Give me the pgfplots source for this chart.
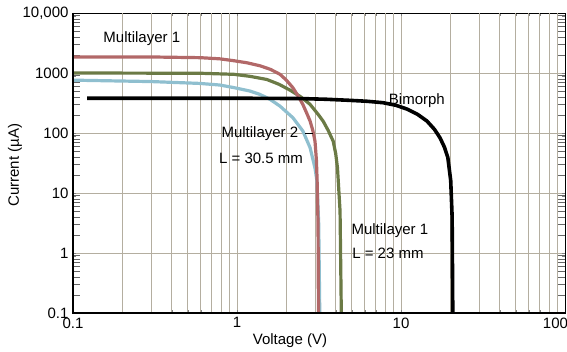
\documentclass[border=0pt]{standalone}
\usepackage{fontspec}
\setmainfont{Liberation Sans}
\usepackage{pgfplots}
\pgfplotsset{compat=1.18}
\definecolor{cred}{RGB}{178,104,104}
\definecolor{cgreen}{RGB}{107,122,69}
\definecolor{cblue}{RGB}{143,191,207}
\definecolor{cgrid}{RGB}{180,174,160}
\begin{document}
\begin{tikzpicture}
\path[use as bounding box] (-73pt,-38pt) rectangle (494pt,313pt);
\begin{axis}[
  at={(0,0)}, anchor=south west,
  scale only axis, width=492pt, height=300pt,
  xmode=log, ymode=log,
  xmin=0.1, xmax=100, ymin=0.1, ymax=10000,
  font=\fontsize{15}{17}\selectfont,
  /pgf/number format/assume math mode=true,
  xtick={0.1,1,10,100}, xticklabels={0.1,1,10,{\makebox[0pt][r]{100\hspace{-3pt}}}},
  ytick={0.1,1,10,100,1000,10000}, yticklabels={0.1,1,10,100,1000,{10,000}},
  minor xtick={}, minor ytick={},
  extra x ticks={0.2,0.3,0.4,0.5,0.6,0.7,0.8,0.9,2,3,4,5,6,7,8,9,20,30,40,50,60,70,80,90},
  extra x tick labels={},
  extra x tick style={xmajorgrids=true, major tick length=0pt},
  extra y ticks={0.2,0.3,0.4,0.5,0.6,0.7,0.8,0.9,2,3,4,5,6,7,8,9,20,30,40,50,60,70,80,90,200,300,400,500,600,700,800,900,2000,3000,4000,5000,6000,7000,8000,9000},
  extra y tick labels={},
  extra y tick style={ymajorgrids=false, major tick length=7pt, major tick style={black!60, line width=0.6pt}},
  xmajorgrids, ymajorgrids,
  major grid style={cgrid, line width=0.75pt},
  major tick length=0pt,
  tick align=inside,
  axis line style={black, line width=0.9pt},
  xticklabel style={yshift=-1pt},
  yticklabel style={xshift=-1pt},
  xlabel={Voltage (V)}, ylabel={Current (µA)},
  xlabel style={at={(axis description cs:0.441,-0.093)}, anchor=center},
  ylabel style={at={(axis description cs:-0.118,0.493)}, anchor=center},
  clip=true,
]
\addplot[cblue, line width=3.2pt] coordinates {
 (0.1,760)(0.3,720)(0.595,670)(0.787,630)(0.96,570)(1.2,500)(1.38,440)(1.6,360)(1.83,280)(2.19,180)(2.52,108)(2.79,57)(2.99,26)(3.07,16)(3.15,3)(3.2,0.08)};
\addplot[cgreen, line width=3.2pt] coordinates {
 (0.1,1000)(0.6,990)(0.96,950)(1.2,880)(1.52,780)(1.8,650)(2.1,520)(2.45,400)(2.79,300)(3.1,210)(3.35,158)(3.6,110)(3.86,73)(4.0,45)(4.1,26)(4.25,5)(4.33,0.08)};
\addplot[cred, line width=3.2pt] coordinates {
 (0.1,1850)(0.3,1850)(0.6,1800)(0.79,1720)(0.96,1600)(1.15,1480)(1.38,1320)(1.6,1150)(1.83,950)(2.0,760)(2.19,570)(2.35,420)(2.52,300)(2.65,220)(2.79,158)(2.9,110)(2.99,73)(3.05,35)(3.08,16)(3.12,3)(3.14,0.08)};
\addplot[black, line width=3.6pt] coordinates {
 (0.122,380)(1,380)(2.44,375)(3.5,365)(4.89,350)(6.2,338)(7.77,320)(9.3,290)(10.9,250)(12.6,205)(14.4,158)(16,115)(17.3,83)(18.4,58)(19.3,39)(20.1,16)(20.5,4)(20.7,0.08)};
\node[anchor=west] at (axis cs:0.146,3690) {Multilayer 1};
\node at (axis cs:12.5,345) {Bimorph};
\node[anchor=west] at (axis cs:0.766,96) {Multilayer 2};
\node[anchor=west] at (axis cs:0.74,38) {L = 30.5 mm};
\node[anchor=west] at (axis cs:4.75,2.33) {Multilayer 1};
\node[anchor=west] at (axis cs:4.8,1.0) {L = 23 mm};
\draw[black, line width=0.8pt] (axis cs:2.6,100) -- (axis cs:2.9,100);
\end{axis}
\draw[black, line width=2pt] (0,300pt) -- (0,0) -- (492pt,0);
\end{tikzpicture}
\end{document}
